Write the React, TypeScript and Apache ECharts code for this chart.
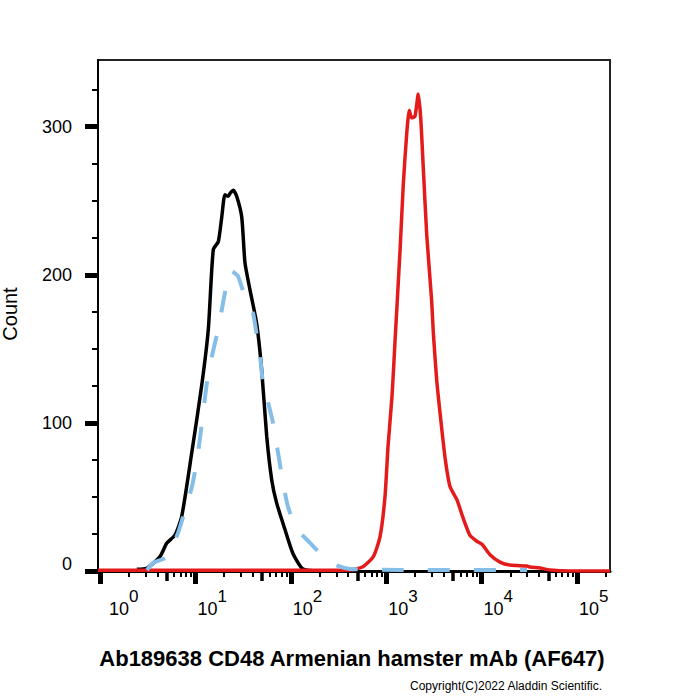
import React, { useEffect, useRef } from 'react';
import * as echarts from 'echarts';

const FONT = '"Liberation Sans", Arial, Helvetica, sans-serif';

// Axis extents and tick values
const xMin = 0.953;
const xMax = 221800;
const decadeTicks = [1, 10, 100, 1000, 10000, 100000];
const fiveTicks = [5, 50, 500, 5000, 50000];
const smallTicks = [
  2, 3, 4, 6, 7, 8, 9,
  20, 30, 40, 60, 70, 80, 90,
  200, 300, 400, 600, 700, 800, 900,
  2000, 3000, 4000, 6000, 7000, 8000, 9000,
  20000, 30000, 40000, 60000, 70000, 80000, 90000,
  200000,
];
const yMax = 345;
const yTicks = [0, 100, 200, 300];

// Black histogram
const blackX = [2.43, 3.09, 4.25, 5.0, 6.11, 7.18, 9.14, 11.6, 13.65, 15.4, 17.4, 18.9, 20.4, 22.1, 23.1, 25.0, 27.1, 30.6, 33.1, 37.3, 43.9, 49.5, 55.9, 63.1, 71.0, 86.9, 105, 130, 158, 250];
const blackY = [1.1, 1.8, 9.7, 18.7, 24.3, 36.7, 79.5, 124.5, 163, 217, 222.5, 239, 254, 253, 255, 257, 253, 239, 208, 190, 167, 136, 91, 61.5, 46, 28, 12, 2, 0.3, 0];

// Blue dashed histogram
const blueX = [3.11, 3.59, 5.04, 6.57, 7.78, 9.21, 10.4, 11.7, 13.2, 14.9, 17.3, 19.5, 21.4, 23.1, 24.8, 28.0, 34.7, 40.2, 44.2, 47.6, 51.1, 57.7, 65.0, 73.4, 80.9, 91.2, 105, 125, 159, 202, 245, 313, 418, 1396, 30000];
const blueY = [0.7, 5.4, 9.5, 25.7, 41, 57, 75, 100, 127, 145, 163, 181, 195, 203, 202, 199, 181, 174, 158, 145, 127, 114, 100, 80, 64, 46, 34, 26, 19, 12, 7.4, 3.4, 1.4, 0.7, 0.7];

// Red histogram
const redX = [0.953, 100, 418, 571, 733, 861, 971, 1045, 1151, 1237, 1396, 1511, 1640, 1746, 1849, 2004, 2169, 2300, 2449, 2660, 2999, 3118, 3382, 3664, 4131, 4665, 5521, 6382, 7558, 8946, 10090, 12250, 15600, 19860, 29900, 32150, 40950, 52100, 84500, 221800];
const redY = [0.5, 0.5, 0.7, 2.9, 9.7, 23, 50, 84, 118, 155, 216, 261, 295, 311, 306, 307, 322, 306, 272, 227, 182, 161, 129, 107, 77, 57, 48, 36, 24, 20, 18, 11, 6, 4, 3.4, 2.7, 2, 0.7, 0, 0];

const xTitle = 'Ab189638 CD48 Armenian hamster mAb (AF647)';
const yTitle = 'Count';
const copyright = 'Copyright(C)2022 Aladdin Scientific.';

const pairs = (xs: number[], ys: number[]) => xs.map((x, i) => [x, ys[i]]);

export default function App() {
  const ref = useRef<HTMLDivElement>(null);
  useEffect(() => {
    const chart = echarts.init(ref.current!, null, { renderer: 'svg' });
    const baseLog = {
      type: 'log',
      logBase: 10,
      min: xMin,
      max: xMax,
      position: 'bottom',
      gridIndex: 0,
      splitLine: { show: false },
      minorTick: { show: false },
      minorSplitLine: { show: false },
    };
    chart.setOption({
      animation: false,
      grid: {
        left: 98,
        right: 90,
        top: 60,
        bottom: 129,
        show: true,
        borderColor: '#222',
        borderWidth: 2,
        backgroundColor: 'transparent',
        outerBoundsMode: 'none',
      },
      xAxis: [
        {
          ...baseLog,
          axisLine: { show: true, onZero: false, lineStyle: { color: '#000', width: 3 } },
          axisTick: { show: true, customValues: decadeTicks, length: 13, lineStyle: { color: '#000', width: 5 } },
          axisLabel: {
            show: true,
            customValues: decadeTicks,
            align: 'left',
            margin: 17,
            formatter: (v: number) => {
              const e = Math.round(Math.log10(v));
              return e === 0 ? `{b0|10}{s|${e}}` : `{b|10}{s|${e}}`;
            },
            rich: {
              b: { fontSize: 18, fontFamily: FONT, color: '#000', verticalAlign: 'bottom', padding: [0, 0, 0, 2] },
              b0: { fontSize: 18, fontFamily: FONT, color: '#000', verticalAlign: 'bottom', padding: [0, 0, 0, 9] },
              s: { fontSize: 17, fontFamily: FONT, color: '#000', verticalAlign: 'bottom', padding: [0, 0, 13, 0] },
            },
          },
        },
        {
          ...baseLog,
          axisLine: { show: false },
          axisTick: { show: true, customValues: fiveTicks, length: 10, lineStyle: { color: '#000', width: 3.5 } },
          axisLabel: { show: false },
        },
        {
          ...baseLog,
          axisLine: { show: false },
          axisTick: { show: true, customValues: smallTicks, length: 6, lineStyle: { color: '#000', width: 2 } },
          axisLabel: { show: false },
        },
      ],
      yAxis: {
        type: 'value',
        min: 0,
        max: yMax,
        interval: 100,
        axisLine: { show: true, onZero: false, lineStyle: { color: '#000', width: 2 } },
        axisTick: { show: true, customValues: yTicks, length: 13, lineStyle: { color: '#000', width: 5 } },
        minorTick: { show: true, splitNumber: 4, length: 6, lineStyle: { color: '#000', width: 2 } },
        splitLine: { show: false },
        axisLabel: {
          customValues: yTicks,
          margin: 26,
          fontSize: 18,
          fontFamily: FONT,
          color: '#000',
          formatter: (v: number) => (v === 0 ? '{z|0}' : String(v)),
          rich: { z: { fontSize: 18, fontFamily: FONT, color: '#000', padding: [0, 0, 14, 0] } },
        },
      },
      series: [
        {
          name: 'black',
          type: 'line',
          data: pairs(blackX, blackY),
          showSymbol: false,
          smooth: 0.2,
          lineStyle: { color: '#000', width: 3.5 },
          z: 2,
        },
        {
          name: 'red',
          type: 'line',
          data: pairs(redX, redY),
          showSymbol: false,
          smooth: 0.2,
          lineStyle: { color: '#e41b1b', width: 3.5 },
          z: 3,
        },
        {
          name: 'blue',
          type: 'line',
          data: pairs(blueX, blueY),
          showSymbol: false,
          smooth: 0.2,
          lineStyle: { color: '#85bfe9', width: 4, type: [22, 24], cap: 'butt' },
          z: 4,
        },
      ],
      graphic: [
        {
          type: 'text',
          x: 10,
          y: 314,
          rotation: Math.PI / 2,
          style: { text: yTitle, fontSize: 20, fontFamily: FONT, fill: '#000', align: 'center', verticalAlign: 'middle' },
        },
        {
          type: 'text',
          x: 352,
          y: 658,
          style: { text: xTitle, fontSize: 22, fontWeight: 'bold', fontFamily: FONT, fill: '#000', align: 'center', verticalAlign: 'middle' },
        },
        {
          type: 'text',
          x: 410,
          y: 686,
          style: { text: copyright, fontSize: 12, fontFamily: FONT, fill: '#000', align: 'left', verticalAlign: 'middle' },
        },
      ],
    });
    return () => chart.dispose();
  }, []);
  return (
    <div
      ref={ref}
      style={{ position: 'fixed', left: 0, top: 0, width: 700, height: 700, background: '#fff' }}
    />
  );
}
